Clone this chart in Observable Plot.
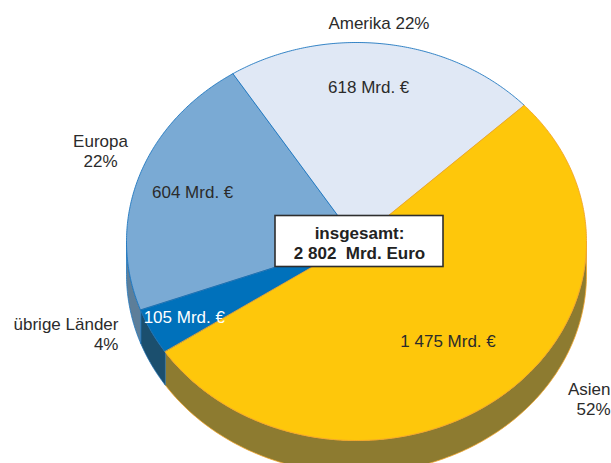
<!DOCTYPE html>
<html>
<head>
<meta charset="utf-8">
<script src="https://cdn.jsdelivr.net/npm/d3@7"></script>
<script src="https://cdn.jsdelivr.net/npm/@observablehq/plot@0.6"></script>
<style>
  html, body { margin: 0; padding: 0; background: #fff; }
  #chart svg { display: block; }
</style>
</head>
<body>
<div id="chart"></div>
<script>
// ---- data ----
const regions = ["Asien", "übrige Länder", "Europa", "Amerika"];
const values = [1475, 105, 604, 618];
const shares = [52, 4, 22, 22];
const valueLabels = ["1 475 Mrd. €", "105 Mrd. €", "604 Mrd. €", "618 Mrd. €"];
const totalLabel = ["insgesamt:", "2 802\u00a0\u00a0Mrd. Euro"];

// ---- styles ----
const topColors = ["#fec70b", "#0071bb", "#7aaad4", "#e0e8f5"];
const sideColors = ["#8d7b30", "#1b4f6e", "#5d7e99", "#b8c4d6"];
const edgeColors = ["#f2a52a", "#1f6fae", "#1f77bf", "#1f77bf"];
const innerTextColors = ["#2b2b2b", "#ffffff", "#2b2b2b", "#2b2b2b"];

// ---- layout ----
const W = 611, H = 463;
const CX = 356, CY = 241, RX = 230, RY = 199, DEPTH = 33;
const startDeg = -43.2;
const innerR = [0.64, 0.84, 0.77, 0.78];
const innerDx = [0, 0, 4, -10];
const outerDx = [111, -33, -38, -6];
const outerDy = [1, 2, -27, -21];
const outerAnchor = ["end", "end", "middle", "middle"];
const FONT = "'Liberation Sans', Arial, Helvetica, sans-serif";

const total = d3.sum(values);
const rad = d => d * Math.PI / 180;
const dUnits = DEPTH / RY;

// angles (screen clockwise, degrees)
let acc = startDeg;
const slices = values.map((v, i) => {
  const a0 = acc;
  const a1 = acc + v / total * 360;
  acc = a1;
  return {i, a0, a1, mid: (a0 + a1) / 2};
});

function arcPts(a0, a1, dv) {
  const n = Math.max(2, Math.ceil((a1 - a0) / 0.5));
  return d3.range(n + 1).map(k => {
    const a = rad(a0 + (a1 - a0) * k / n);
    return {x: Math.cos(a), y: Math.sin(a) + dv};
  });
}

const marks = [];

// side walls (front half only)
slices.forEach(s => {
  const lo = Math.max(s.a0, 0), hi = Math.min(s.a1, 180);
  if (hi <= lo) return;
  const pts = arcPts(lo, hi, 0).concat(arcPts(lo, hi, dUnits).reverse());
  marks.push(Plot.line(pts, {
    x: "x", y: "y", curve: "linear-closed",
    fill: sideColors[s.i], stroke: edgeColors[s.i], strokeWidth: 0.8
  }));
});

// top faces (Asien last)
[3, 2, 1, 0].forEach(i => {
  const s = slices[i];
  const pts = [{x: 0, y: 0}].concat(arcPts(s.a0, s.a1, 0));
  marks.push(Plot.line(pts, {
    x: "x", y: "y", curve: "linear-closed",
    fill: topColors[i], stroke: edgeColors[i], strokeWidth: 0.9
  }));
});

// inner value labels
slices.forEach(s => {
  const a = rad(s.mid);
  marks.push(Plot.text([valueLabels[s.i]], {
    x: () => innerR[s.i] * Math.cos(a),
    y: () => innerR[s.i] * Math.sin(a),
    text: d => d, dx: innerDx[s.i],
    fill: innerTextColors[s.i], fontSize: 17, fontFamily: FONT
  }));
});

// outer region labels
slices.forEach(s => {
  const a = rad(s.mid);
  const label = s.i === 3 ? `${regions[s.i]} ${shares[s.i]}%` : `${regions[s.i]}\n${shares[s.i]}%`;
  marks.push(Plot.text([label], {
    x: () => Math.cos(a),
    y: () => Math.sin(a),
    text: d => d, dx: outerDx[s.i], dy: outerDy[s.i],
    textAnchor: outerAnchor[s.i], lineAnchor: "middle", lineHeight: 1.18,
    fill: "#2b2b2b", fontSize: 17, fontFamily: FONT
  }));
});

// total box at pie centre
const BOX_W = 168, BOX_H = 51, BOX_DX = 3;
marks.push(Plot.rect([0], {
  x1: () => (BOX_DX - BOX_W / 2) / RX, x2: () => (BOX_DX + BOX_W / 2) / RX,
  y1: () => (-BOX_H / 2) / RY, y2: () => (BOX_H / 2) / RY,
  fill: "#ffffff", stroke: "#2e2e2e", strokeWidth: 1.6
}));
marks.push(Plot.text([totalLabel.join("\n")], {
  x: () => 0, y: () => 0, text: d => d, dx: BOX_DX, dy: 1,
  lineAnchor: "middle", lineHeight: 1.18,
  fill: "#222", fontSize: 17, fontWeight: "bold", fontFamily: FONT
}));

const chart = Plot.plot({
  width: W, height: H,
  margin: 0,
  style: {fontFamily: FONT, background: "#fff", overflow: "hidden"},
  x: {domain: [-CX / RX, (W - CX) / RX], axis: null},
  y: {domain: [(H - CY) / RY, -CY / RY], axis: null},
  marks
});
document.getElementById("chart").appendChild(chart);
</script>
</body>
</html>
